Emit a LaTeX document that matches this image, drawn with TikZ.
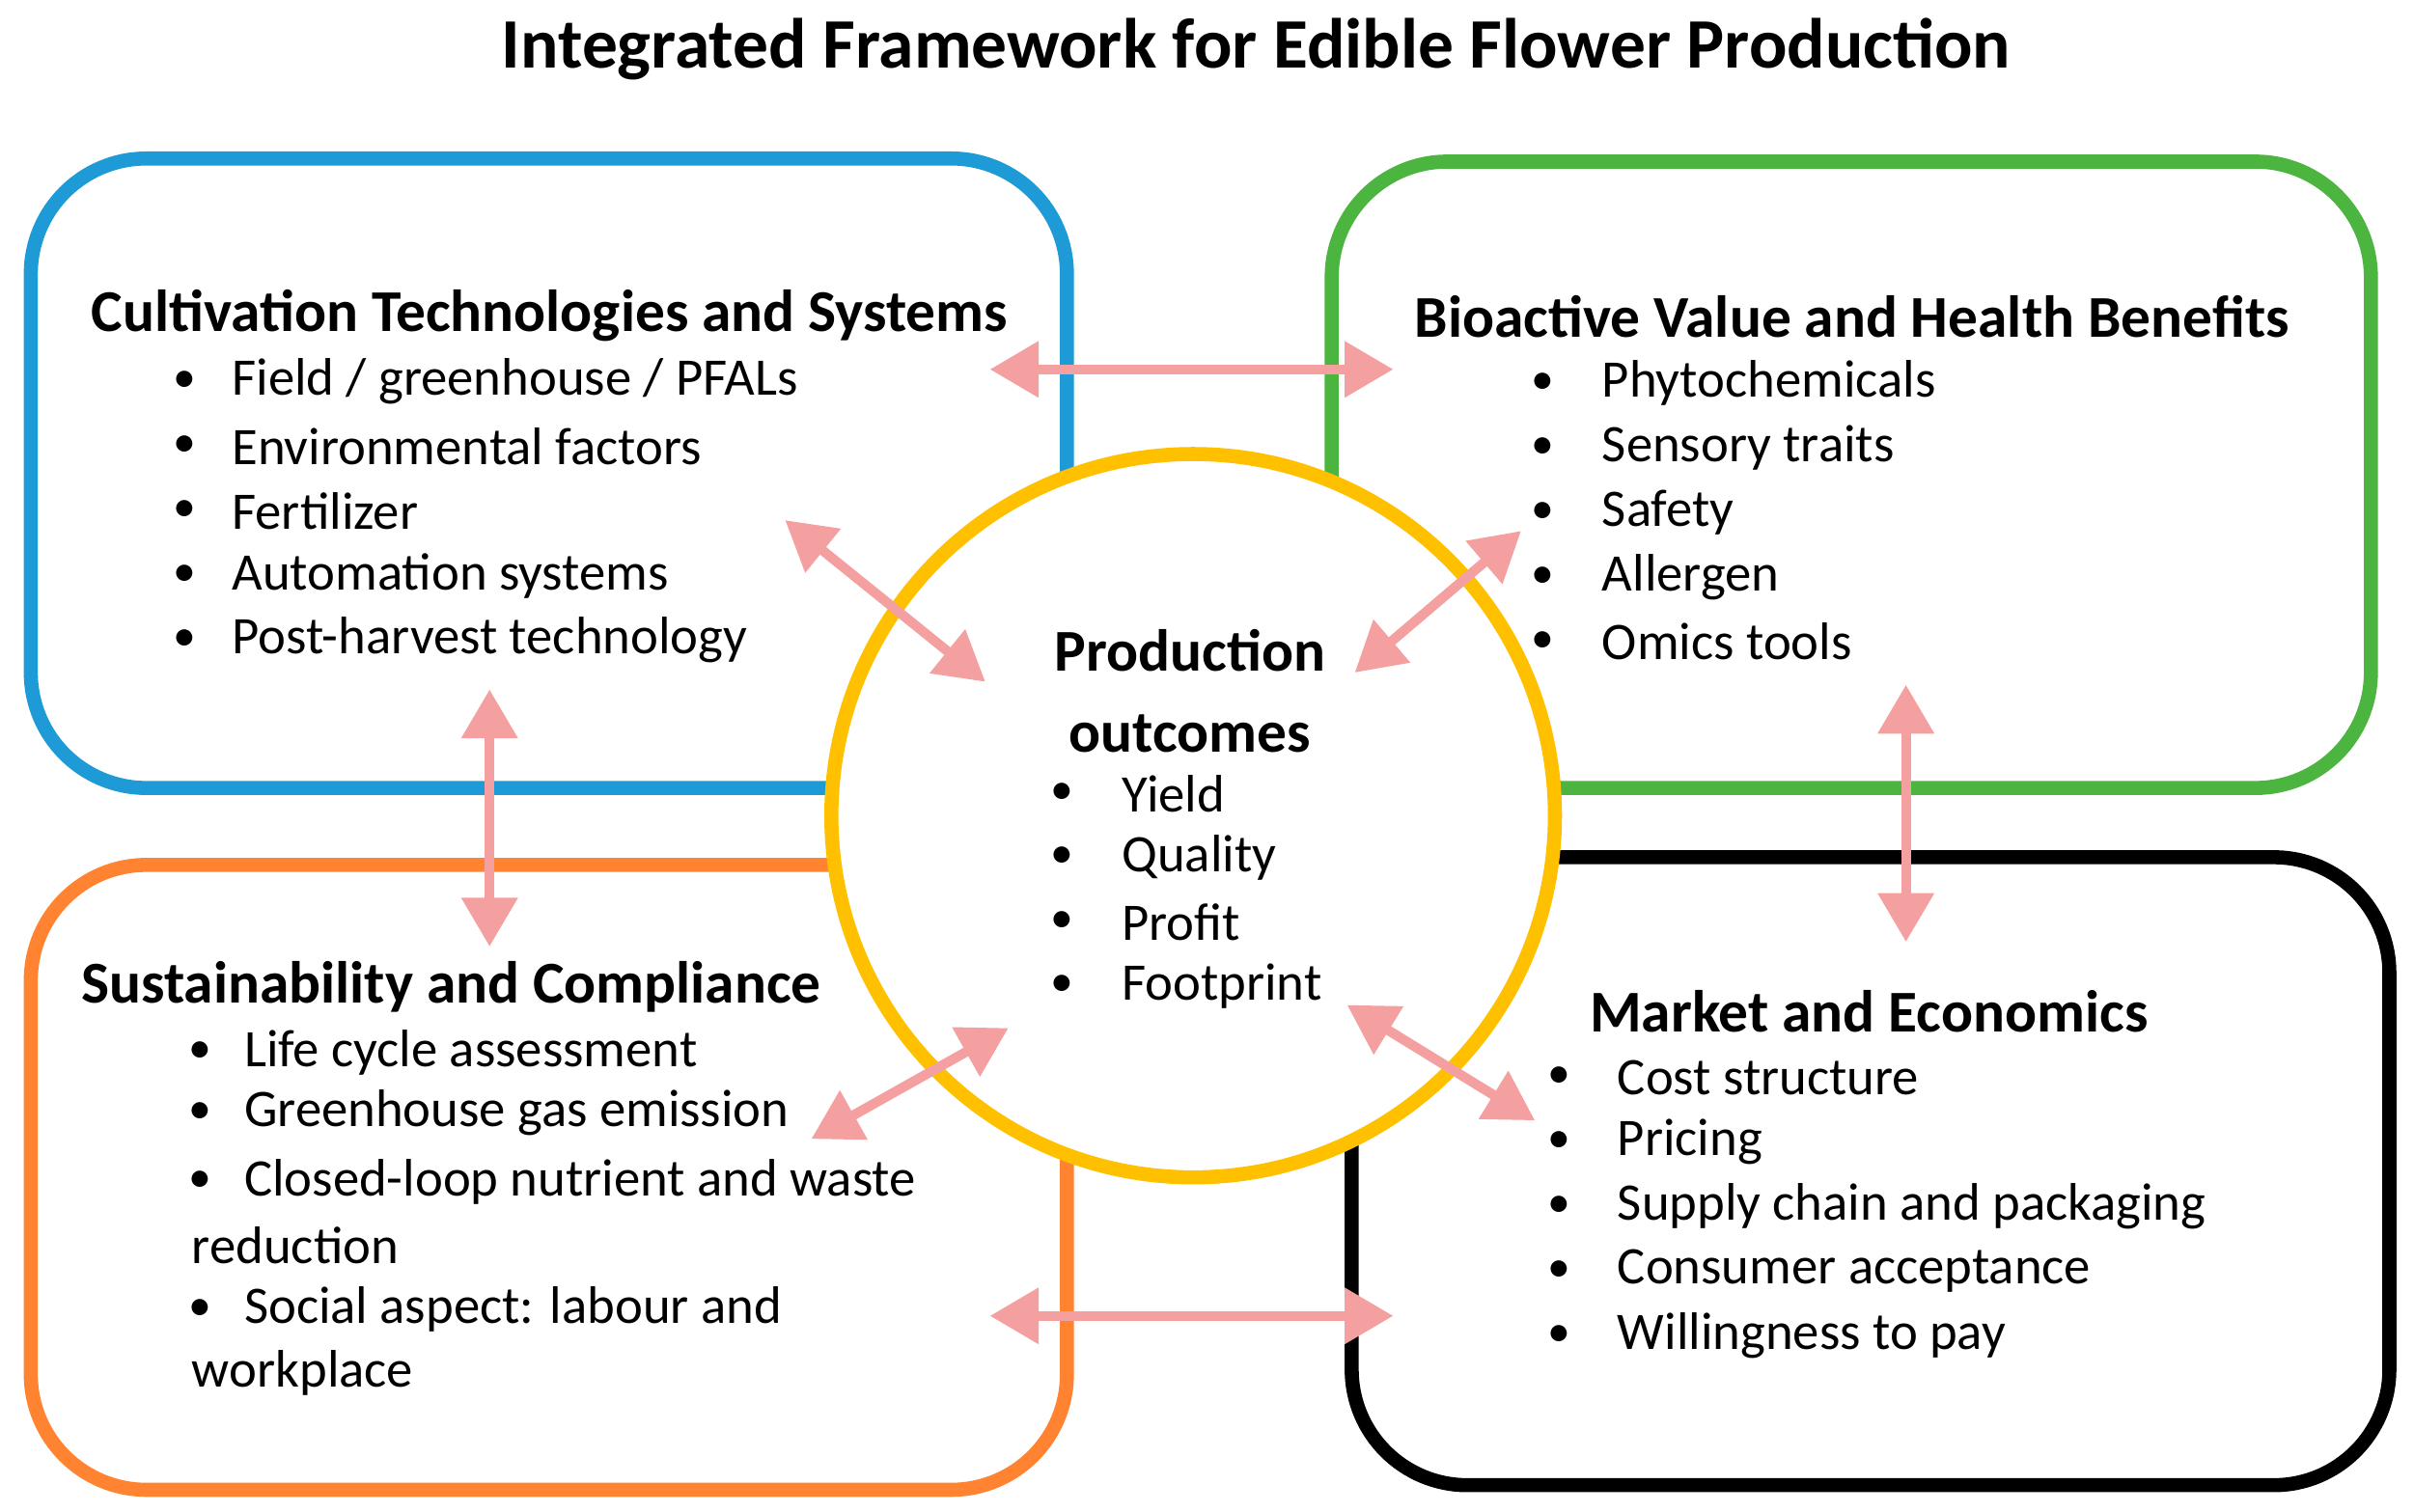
\documentclass[tikz,border=0pt]{standalone}
\usepackage{fontspec}
\setmainfont{Carlito}
\usetikzlibrary{arrows.meta}
\definecolor{cblue}{HTML}{1E9BD7}
\definecolor{cgreen}{HTML}{4CB53F}
\definecolor{corange}{HTML}{FF8330}
\definecolor{cgold}{HTML}{FFC000}
\definecolor{cpink}{HTML}{F4A0A0}
\begin{document}
\begin{tikzpicture}[x=0.01cm,y=-0.01cm,
  box/.style={line width=2.6pt,rounded corners=0.75cm},
  head/.style={font=\fontsize{10.95}{13}\selectfont\bfseries},
  txt/.style={font=\fontsize{9.75}{11}\selectfont,anchor=west,inner sep=0},
  bul/.style={font=\fontsize{8.5}{11}\selectfont,inner sep=0},
  link/.style={cpink,line width=1.8pt,{Triangle[length=9pt,width=10pt]}-{Triangle[length=9pt,width=10pt]}}]
\useasboundingbox (0,0) rectangle (1568,982);
\node[font=\fontsize{13.1}{15}\selectfont\bfseries] (title) at (816,32) {Integrated Framework for Edible Flower Production};
% boxes
\draw[box,cblue] (20,103) rectangle (693,512);
\draw[box,cgreen] (865,105) rectangle (1540,512);
\draw[box,corange] (20,562) rectangle (693,968);
\draw[box,black] (878,557) rectangle (1552,965);
\draw[cgold,line width=2.6pt,fill=white] (775,530) circle [radius=235];
% headings
\node[head] (h1) at (357,205) {Cultivation Technologies and Systems};
\node[head] (h2) at (1203,206) {Bioactive Value and Health Benefits};
\node[head] (h3) at (293,641) {Sustainability and Compliance};
\node[head] (h4) at (1214,657) {Market and Economics};
\node[head,align=center] (h5) at (773,449) {Production\\[2pt]outcomes};
% lists
\foreach \t [count=\i] in {Field / greenhouse / PFALs,Environmental factors,Fertilizer,Automation systems,Post-harvest technology}{
  \node[bul] (a\i b) at (120,206+42*\i) {\textbullet};
  \node[txt] (a\i) at (150,206+42*\i) {\t};}
\foreach \t [count=\i] in {Phytochemicals,Sensory traits,Safety,Allergen,Omics tools}{
  \node[bul] (b\i b) at (1002,207+42*\i) {\textbullet};
  \node[txt] (b\i) at (1040,207+42*\i) {\t};}
\foreach \t [count=\i] in {Yield,Quality,Profit,Footprint}{
  \node[bul] (c\i b) at (690,474+41.7*\i) {\textbullet};
  \node[txt] (c\i) at (728,474+41.7*\i) {\t};}
\foreach \t [count=\i] in {Cost structure,Pricing,Supply chain and packaging,Consumer acceptance,Willingness to pay}{
  \node[bul] (d\i b) at (1013,658+42*\i) {\textbullet};
  \node[txt] (d\i) at (1050,658+42*\i) {\t};}
\node[bul] (e1b) at (130,684) {\textbullet};
\node[txt] (e1) at (158,684) {Life cycle assessment};
\node[bul] (e2b) at (130,723) {\textbullet};
\node[txt] (e2) at (158,723) {Greenhouse gas emission};
\node[bul] (e3b) at (130,768) {\textbullet};
\node[txt] (e3) at (158,768) {Closed-loop nutrient and waste};
\node[txt] (e3c) at (124,809) {reduction};
\node[bul] (e4b) at (130,851) {\textbullet};
\node[txt] (e4) at (158,851) {Social aspect: labour and};
\node[txt] (e4c) at (124,892) {workplace};
% connectors
\coordinate (p1) at (643,240); \coordinate (q1) at (905,240);
\coordinate (p2) at (510,338); \coordinate (q2) at (640,443);
\coordinate (p3) at (988,345); \coordinate (q3) at (880,437);
\coordinate (p4) at (318,448); \coordinate (q4) at (318,615);
\coordinate (p5) at (1238,445); \coordinate (q5) at (1238,612);
\coordinate (p6) at (655,668); \coordinate (q6) at (527,740);
\coordinate (p7) at (875,653); \coordinate (q7) at (997,728);
\coordinate (p8) at (643,855); \coordinate (q8) at (905,855);
\foreach \k in {1,...,8} \draw[link] (p\k) -- (q\k);
\end{tikzpicture}
\end{document}
